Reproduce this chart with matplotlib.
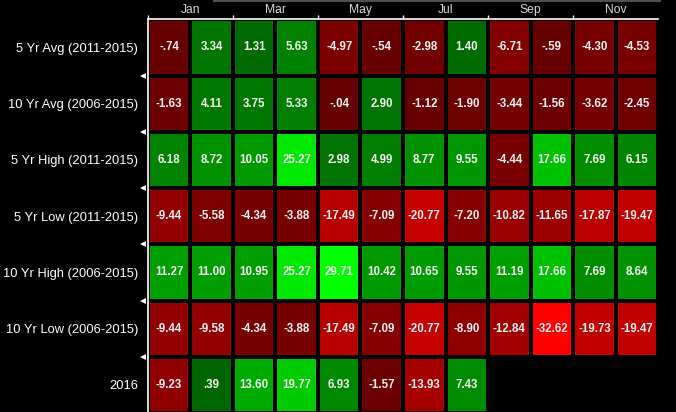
import numpy as np
import matplotlib
matplotlib.use("Agg")
import matplotlib.pyplot as plt
from matplotlib.colors import LinearSegmentedColormap, TwoSlopeNorm
from matplotlib.transforms import blended_transform_factory
from matplotlib.lines import Line2D

# monthly seasonality table (percent)
months = ["Jan", "Feb", "Mar", "Apr", "May", "Jun",
          "Jul", "Aug", "Sep", "Oct", "Nov", "Dec"]
row_labels = ["5 Yr Avg (2011-2015)", "10 Yr Avg (2006-2015)",
              "5 Yr High (2011-2015)", "5 Yr Low (2011-2015)",
              "10 Yr High (2006-2015)", "10 Yr Low (2006-2015)", "2016"]

avg_5yr = [-0.74, 3.34, 1.31, 5.63, -4.97, -0.54, -2.98, 1.40, -6.71, -0.59, -4.30, -4.53]
avg_10yr = [-1.63, 4.11, 3.75, 5.33, -0.04, 2.90, -1.12, -1.90, -3.44, -1.56, -3.62, -2.45]
high_5yr = [6.18, 8.72, 10.05, 25.27, 2.98, 4.99, 8.77, 9.55, -4.44, 17.66, 7.69, 6.15]
low_5yr = [-9.44, -5.58, -4.34, -3.88, -17.49, -7.09, -20.77, -7.20, -10.82, -11.65, -17.87, -19.47]
high_10yr = [11.27, 11.00, 10.95, 25.27, 29.71, 10.42, 10.65, 9.55, 11.19, 17.66, 7.69, 8.64]
low_10yr = [-9.44, -9.58, -4.34, -3.88, -17.49, -7.09, -20.77, -8.90, -12.84, -32.62, -19.73, -19.47]
y2016 = [-9.23, 0.39, 13.60, 19.77, 6.93, -1.57, -13.93, 7.43,
         np.nan, np.nan, np.nan, np.nan]

data = np.array([avg_5yr, avg_10yr, high_5yr, low_5yr, high_10yr, low_10yr, y2016])
masked = np.ma.masked_invalid(data)

dark = 100 / 255
cdict = {
    "red": [(0.0, 1.0, 1.0), (0.5, dark, 0.0), (1.0, 0.0, 0.0)],
    "green": [(0.0, 0.0, 0.0), (0.5, 0.0, dark), (1.0, 1.0, 1.0)],
    "blue": [(0.0, 0.0, 0.0), (1.0, 0.0, 0.0)],
}
cmap = LinearSegmentedColormap("redgreen", cdict)
norm = TwoSlopeNorm(vmin=np.nanmin(data), vcenter=0, vmax=np.nanmax(data))


def fmt(v):
    s = "%.2f" % v
    return s.replace("0.", ".", 1) if abs(v) < 1 else s


fig = plt.figure(figsize=(6.76, 4.12), dpi=100, facecolor="black")
ax = fig.add_axes([147.7 / 676, -1 / 412, 510.6 / 676, 393.7 / 412])
ax.set_facecolor("black")

nrows, ncols = data.shape
ax.pcolormesh(np.arange(ncols + 1), np.arange(nrows + 1), masked,
              cmap=cmap, norm=norm, edgecolors="black", linewidth=1.6)
ax.set_xlim(0, ncols)
ax.set_ylim(nrows, 0)

for i in range(nrows):
    for j in range(ncols):
        v = data[i, j]
        if np.isnan(v):
            continue
        ax.text(j + 0.5, i + 0.5, fmt(v), ha="center", va="center",
                color="#f2f2f2", fontsize=8.3, fontweight="bold",
                family="Liberation Sans")

# top axis: ticks on even edges, month names between
ax.xaxis.tick_top()
ax.set_xticks(np.arange(0, ncols, 2))
ax.set_xticklabels([])
ax.set_xticks(np.arange(1, ncols, 2), minor=True)
ax.set_xticklabels(months[::2], minor=True, color="#d8d8d8", fontsize=8.7,
                   family="Liberation Sans")
ax.tick_params(axis="x", which="major", top=True, bottom=False, length=3,
               width=1, color="white")
ax.tick_params(axis="x", which="minor", top=True, bottom=False, length=0, pad=2.3)

ax.set_yticks(np.arange(nrows) + 0.5)
ax.set_yticklabels(row_labels, color="white", fontsize=9.3, family="Liberation Sans")
ax.tick_params(axis="y", length=0, pad=7)

for side in ["right", "bottom"]:
    ax.spines[side].set_visible(False)
for side in ["top", "left"]:
    ax.spines[side].set_color("white")
    ax.spines[side].set_linewidth(1.2)

# little left-pointing markers at row boundaries
trans = blended_transform_factory(ax.transAxes, ax.transData)
ax.plot([-0.0085] * (nrows - 1), np.arange(1, nrows), linestyle="none",
        marker="<", markersize=4.5, color="white", markeredgewidth=0,
        transform=trans, clip_on=False)

# thin grey strip at the very top
fig.add_artist(Line2D([214 / 676, 660 / 676], [0.998, 0.998],
                      color="#505050", linewidth=1.5, transform=fig.transFigure))

fig.savefig("out.png", dpi=100, facecolor="black")
